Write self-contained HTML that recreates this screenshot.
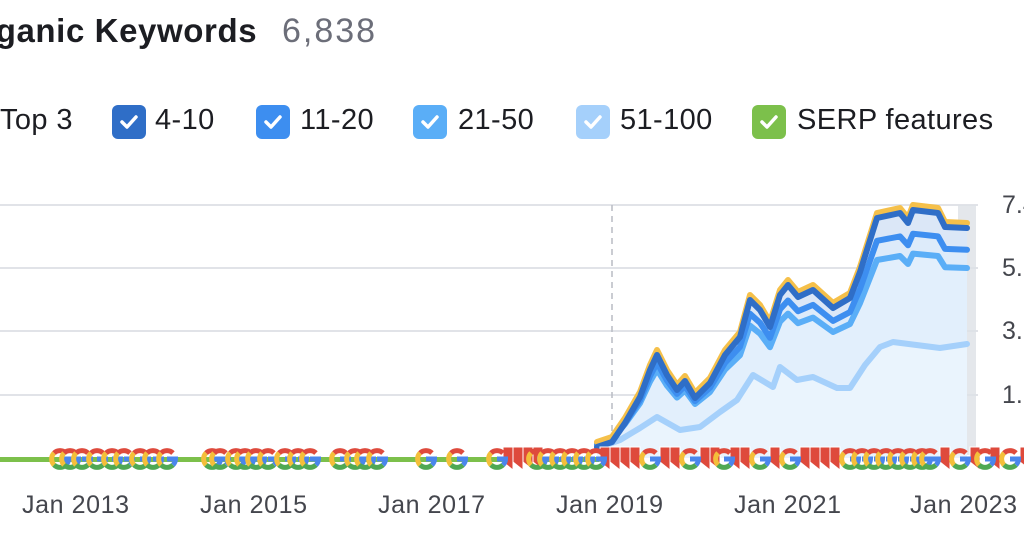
<!DOCTYPE html>
<html><head><meta charset="utf-8"><style>
body{margin:0;width:1024px;height:550px;overflow:hidden;background:#fff;font-family:"Liberation Sans",sans-serif;position:relative}
.t{position:absolute;white-space:nowrap}
.cb{position:absolute;width:34px;height:34px;border-radius:6px;top:105px}
.cb svg{position:absolute;left:7px;top:8px}
.lg{position:absolute;top:104px;font-size:29px;color:#1c1d22;letter-spacing:0.4px}
.ax{position:absolute;top:491px;font-size:25px;color:#44464d;letter-spacing:0.6px}
.ay{position:absolute;left:1002px;font-size:25px;color:#44464d}
</style></head><body>
<div class="t" style="left:-44px;top:12px;font-size:33px;font-weight:bold;color:#1c1d22;letter-spacing:0.6px">Organic Keywords</div>
<div class="t" style="left:282px;top:12px;font-size:34px;color:#6c6e79;letter-spacing:2px">6,838</div>
<div class="lg" style="left:0">Top 3</div>
<div class="cb" style="left:112px;background:#2f6ec7"><svg width="20" height="18"><path d="M3 9l5 5 9-10" stroke="#fff" stroke-width="3.5" fill="none" stroke-linecap="round" stroke-linejoin="round"/></svg></div>
<div class="lg" style="left:155px">4-10</div>
<div class="cb" style="left:256px;background:#3d8ef0"><svg width="20" height="18"><path d="M3 9l5 5 9-10" stroke="#fff" stroke-width="3.5" fill="none" stroke-linecap="round" stroke-linejoin="round"/></svg></div>
<div class="lg" style="left:300px">11-20</div>
<div class="cb" style="left:413px;background:#5aaef7"><svg width="20" height="18"><path d="M3 9l5 5 9-10" stroke="#fff" stroke-width="3.5" fill="none" stroke-linecap="round" stroke-linejoin="round"/></svg></div>
<div class="lg" style="left:458px">21-50</div>
<div class="cb" style="left:576px;background:#a5d0fb"><svg width="20" height="18"><path d="M3 9l5 5 9-10" stroke="#fff" stroke-width="3.5" fill="none" stroke-linecap="round" stroke-linejoin="round"/></svg></div>
<div class="lg" style="left:620px">51-100</div>
<div class="cb" style="left:752px;background:#7cc04b"><svg width="20" height="18"><path d="M3 9l5 5 9-10" stroke="#fff" stroke-width="3.5" fill="none" stroke-linecap="round" stroke-linejoin="round"/></svg></div>
<div class="lg" style="left:797px">SERP features</div>

<svg id="ch" width="1024" height="550" style="position:absolute;left:0;top:0">
<g stroke="#e1e3e8" stroke-width="2">
<line x1="0" y1="205" x2="978" y2="205"/><line x1="0" y1="268" x2="978" y2="268"/>
<line x1="0" y1="331" x2="978" y2="331"/><line x1="0" y1="395" x2="978" y2="395"/>
</g>
<rect x="958" y="205" width="18" height="250" fill="#dde1e6" opacity="0.8"/>
<line x1="612" y1="205" x2="612" y2="450" stroke="#b9bcc4" stroke-width="1.5" stroke-dasharray="6,5"/>
<g id="series"></g>
<rect x="0" y="457" width="610" height="5" fill="#7cc04b"/>
<g id="marks"></g>
</svg>
<div class="ay" style="top:191px">7.4</div>
<div class="ay" style="top:254px">5.</div>
<div class="ay" style="top:317px">3.</div>
<div class="ay" style="top:381px">1.9</div>
<div class="ax" style="left:22px">Jan 2013</div>
<div class="ax" style="left:200px">Jan 2015</div>
<div class="ax" style="left:378px">Jan 2017</div>
<div class="ax" style="left:556px">Jan 2019</div>
<div class="ax" style="left:734px">Jan 2021</div>
<div class="ax" style="left:910px">Jan 2023</div>
<script>
var B=448;
var T=[[597,442],[612,437],[625,418],[640,392],[650,365],[657,350],[667,370],[677,385],[685,376],[695,393],[710,378],[725,350],[740,332],[750,295],[760,305],[770,322],[780,290],[788,280],[798,292],[813,285],[833,303],[850,293],[860,267],[877,213],[900,208],[908,218],[913,205],[938,208],[945,222],[967,223]];
var L=[[597,448],[620,440],[640,428],[657,417],[680,430],[700,427],[720,412],[737,400],[753,375],[773,387],[780,367],[797,380],[813,377],[837,388],[850,388],[865,365],[880,347],[893,342],[940,348],[967,344]];
function sc(k,off){return T.map(function(p){return [p[0],B-k*(B-p[1])+off]});}
function d(pts){return pts.map(function(p,i){return (i?'L':'M')+p[0]+' '+p[1].toFixed(1)}).join(' ');}
function area(pts){return d(pts)+' L967 '+(B+10)+' L597 '+(B+10)+' Z';}
var s=document.getElementById('series'),h='';
var tp=sc(1,0),a=sc(1,5),b=sc(0.89,2),c=sc(0.8,0);
h+='<path d="'+area(tp)+'" fill="#dbe7f7"/>';
h+='<path d="'+area(b)+'" fill="#ddebfa"/>';
h+='<path d="'+area(c)+'" fill="#e2effc"/>';
h+='<path d="'+area(L)+'" fill="#eaf4fd"/>';
var st=' stroke-width="6" fill="none" stroke-linejoin="round" stroke-linecap="round"';
h+='<path d="'+d(L)+'" stroke="#a5d0fb"'+st+'/>';
h+='<path d="'+d(c)+'" stroke="#5aaef7"'+st+'/>';
h+='<path d="'+d(b)+'" stroke="#3d8ef0"'+st+'/>';
h+='<path d="'+d(tp)+'" stroke="#f5c04a"'+st+'/>';
h+='<path d="'+d(a)+'" stroke="#2f6ec7"'+st+'/>';
s.innerHTML=h;
function G(x){var y=459,r=8.5;return '<g fill="none" stroke-width="5">'+
'<path d="M'+(x+r*0.7)+' '+(y-r*0.7)+' A'+r+' '+r+' 0 0 0 '+(x-r*0.7)+' '+(y-r*0.7)+'" stroke="#de4a3c"/>'+
'<path d="M'+(x-r*0.7)+' '+(y-r*0.7)+' A'+r+' '+r+' 0 0 0 '+(x-r*0.7)+' '+(y+r*0.7)+'" stroke="#f4bf3a"/>'+
'<path d="M'+(x-r*0.7)+' '+(y+r*0.7)+' A'+r+' '+r+' 0 0 0 '+(x+r*0.7)+' '+(y+r*0.7)+'" stroke="#4fa853"/>'+
'<path d="M'+(x+r*0.7)+' '+(y+r*0.7)+' A'+r+' '+r+' 0 0 0 '+(x+r)+' '+y+' L'+x+' '+y+'" stroke="#4a86ec"/></g>';}
function F(x){return '<path d="M'+x+' 447 h10 v23 l-10 -8 Z" fill="#de4a3c" stroke="#fff" stroke-width="1"/>';}
var gx=[60,70,82,97,112,124,140,153,167,212,220,236,245,256,268,285,298,310,340,355,365,377,426,457,497,537,548,560,572,584,596,650,690,724,760,790,850,862,874,886,898,910,922,930,960,985,1010];
var fx=[503,513,523,533];
for(var x=600;x<1024;x+=10){var ok=true;gx.forEach(function(g){if(Math.abs(g-x-5)<9)ok=false});if(ok)fx.push(x);}
var m='';fx.forEach(function(x){m+=F(x)});gx.forEach(function(x){m+=G(x)});
document.getElementById('marks').innerHTML=m;
</script>
</body></html>
